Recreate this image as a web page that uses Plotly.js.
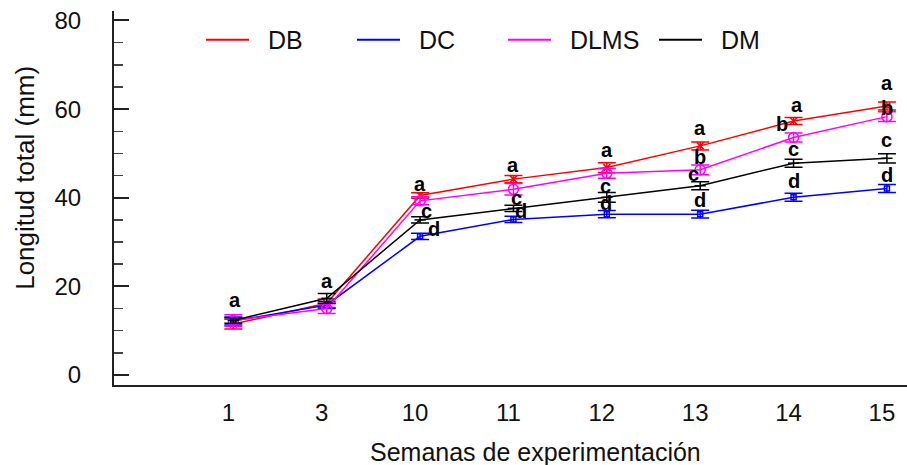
<!DOCTYPE html>
<html>
<head>
<meta charset="utf-8">
<script src="https://cdn.plot.ly/plotly-3.0.1.min.js"></script>
<style>html,body{margin:0;padding:0;background:#fff;}#chart{width:907px;height:465px;}</style>
</head>
<body>
<div id="chart"></div>
<script>
// ---- data ----
var weeks = ['1', '3', '10', '11', '12', '13', '14', '15'];
var seriesNames = ['DB', 'DC', 'DLMS', 'DM'];
var DB = [11.5, 16.2, 40.5, 44.2, 46.8, 51.7, 57.3, 60.7];
var DB_err = [1.1, 0.95, 0.6, 0.8, 1.1, 0.9, 0.8, 0.9];
var DC = [12.2, 15.8, 31.3, 35.1, 36.3, 36.3, 40.1, 42.1];
var DC_err = [0.9, 0.8, 0.7, 0.7, 0.8, 0.9, 0.9, 0.9];
var DLMS = [12.3, 15.0, 39.3, 41.9, 45.5, 46.3, 53.6, 58.3];
var DLMS_err = [1.3, 1.1, 0.9, 1.3, 1.1, 1.1, 1.0, 1.1];
var DM = [12.3, 17.3, 35.0, 37.6, 40.1, 42.7, 47.8, 48.9];
var DM_err = [0.6, 1.1, 0.7, 0.7, 1.1, 0.9, 0.9, 1.05];
// significance letters
var DB_letters = ['a', 'a', 'a', 'a', 'a', 'a', 'a', 'a'];
var DC_letters = ['', '', 'd', 'd', 'd', 'd', 'd', 'd'];
var DLMS_letters = ['', '', '', '', '', 'b', 'b', 'b'];
var DM_letters = ['', '', 'c', 'c', 'c', 'c', 'c', 'c'];

// ---- label placement (pixel offsets from each point) ----
var labelDX = {
  DB: [2, 0, 0, 0, 0, 0, 3, 0],
  DC: [0, 0, 14, 8, -1, 0, 0, 0],
  DLMS: [0, 0, 0, 0, 0, 0, -12, 0],
  DM: [0, 0, 6, 3, -1, -7, 0, 0]
};
var labelDY = {
  DB: [24, 22, 12, 14, 18, 18, 16, 23],
  DC: [0, 0, 7, 8, 11, 14, 16, 13],
  DLMS: [0, 0, 0, 0, 0, 13, 13, 9],
  DM: [0, 0, 9, 10, 11, 12, 14, 18]
};

var idx = weeks.map(function (w, i) { return i; });
var colors = { DB: '#ff0000', DC: '#0000ff', DLMS: '#ff00ff', DM: '#000000' };
var symbols = { DB: 'x-thin-open', DC: 'square-open', DLMS: 'circle-open', DM: 'line-ew-open' };
var sizes = { DB: 7, DC: 5, DLMS: 10, DM: 8 };
var vals = { DB: DB, DC: DC, DLMS: DLMS, DM: DM };
var errs = { DB: DB_err, DC: DC_err, DLMS: DLMS_err, DM: DM_err };
var letters = { DB: DB_letters, DC: DC_letters, DLMS: DLMS_letters, DM: DM_letters };

var traces = seriesNames.map(function (n) {
  return {
    type: 'scatter', mode: 'lines+markers', name: n, showlegend: false,
    x: idx, y: vals[n],
    line: { color: colors[n], width: 1.5 },
    marker: { symbol: symbols[n], size: sizes[n], color: colors[n], line: { color: colors[n], width: 1.5 } },
    error_y: { type: 'data', array: errs[n], visible: true, color: colors[n], thickness: 1.5, width: 9 }
  };
});
// legend entries (line only, as in the reference legend)
seriesNames.forEach(function (n) {
  traces.push({
    type: 'scatter', mode: 'lines', name: '\u00a0\u00a0' + n, showlegend: true,
    x: [null], y: [null], line: { color: colors[n], width: 2 }, hoverinfo: 'skip'
  });
});

var annotations = [];
seriesNames.forEach(function (n) {
  letters[n].forEach(function (t, i) {
    if (!t) return;
    annotations.push({
      x: i, y: vals[n][i], xref: 'x', yref: 'y', text: t, showarrow: false,
      xshift: labelDX[n][i], yshift: labelDY[n][i],
      font: { family: 'Liberation Sans, Arial, sans-serif', size: 20, color: '#000', weight: 'bold' }
    });
  });
});
annotations.push({
  xref: 'paper', yref: 'paper', x: 0.531, y: -0.179, xanchor: 'center', yanchor: 'middle',
  text: 'Semanas de experimentación', showarrow: false,
  font: { family: 'Liberation Sans, Arial, sans-serif', size: 25, color: '#111' }
});
annotations.push({
  xref: 'paper', yref: 'paper', x: -0.1122, y: 0.554, xanchor: 'center', yanchor: 'middle',
  text: 'Longitud total (mm)', showarrow: false, textangle: -90,
  font: { family: 'Liberation Sans, Arial, sans-serif', size: 26, color: '#111' }
});

var layout = {
  width: 907, height: 465,
  margin: { l: 114, r: 0, t: 11, b: 80, pad: 0 },
  paper_bgcolor: '#fff', plot_bgcolor: '#fff',
  font: { family: 'Liberation Sans, Arial, sans-serif', color: '#111' },
  showlegend: true,
  legend: {
    orientation: 'h', x: 0.1097, y: 0.9225, xanchor: 'left', yanchor: 'middle',
    font: { size: 25, color: '#111' }, itemwidth: 43, entrywidth: 93, entrywidthmode: 'pixels',
    bgcolor: 'rgba(0,0,0,0)', borderwidth: 0
  },
  xaxis: {
    range: [-1.278, 7.215], tickvals: idx, ticktext: weeks,
    showline: true, linecolor: '#222', linewidth: 2, mirror: false,
    showgrid: false, zeroline: false, ticks: '', ticklabelstandoff: 5, ticklabelshift: -5,
    tickfont: { size: 24, color: '#111' }
  },
  yaxis: {
    range: [-2.26, 82.14], tickvals: [0, 20, 40, 60, 80],
    showline: true, linecolor: '#222', linewidth: 2,
    showgrid: false, zeroline: false,
    ticks: 'inside', ticklen: 15, tickwidth: 2, tickcolor: '#222',
    minor: { dtick: 5, tick0: 0, ticks: 'inside', ticklen: 9, tickwidth: 1.5, tickcolor: '#444', showgrid: false },
    ticklabelstandoff: 26,
    tickfont: { size: 24, color: '#111' }
  },
  annotations: annotations
};

Plotly.newPlot('chart', traces, layout, { displayModeBar: false, staticPlot: true });
</script>
</body>
</html>
